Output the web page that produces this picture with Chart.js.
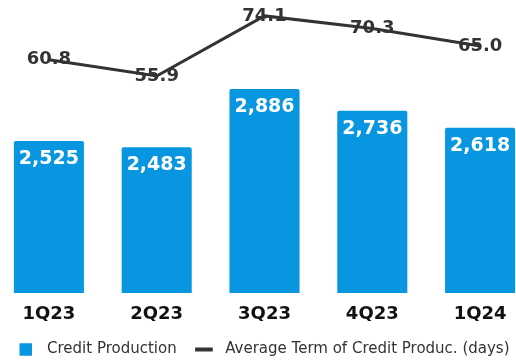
<!DOCTYPE html>
<html>
<head>
<meta charset="utf-8">
<script src="https://cdn.jsdelivr.net/npm/chart.js@4"></script>
<style>
  html, body { margin: 0; padding: 0; background: #fff; overflow: hidden; }
  #wrap { width: 539px; height: 361px; margin-left: -5px; }
</style>
</head>
<body>
<div id="wrap"><canvas id="chart"></canvas></div>
<script>
const categories = ['1Q23', '2Q23', '3Q23', '4Q23', '1Q24'];
const creditProduction = [2525, 2483, 2886, 2736, 2618];
const averageTerm = [60.8, 55.9, 74.1, 70.3, 65.0];

const blue = '#0896E1';
const dark = '#333333';
const font = '"DejaVu Sans", Verdana, sans-serif';

// white totals inside the bars, dark labels on the line
const valueLabels = {
  id: 'valueLabels',
  afterDatasetsDraw(chart) {
    const ctx = chart.ctx;
    ctx.save();
    ctx.textAlign = 'center';
    ctx.textBaseline = 'middle';

    ctx.font = 'bold 19px ' + font;
    ctx.fillStyle = '#ffffff';
    chart.getDatasetMeta(0).data.forEach((bar, i) => {
      ctx.fillText(creditProduction[i].toLocaleString('en-US'), bar.x, bar.y + 18);
    });

    ctx.font = 'bold 18px ' + font;
    ctx.fillStyle = dark;
    chart.getDatasetMeta(1).data.forEach((pt, i) => {
      ctx.fillText(averageTerm[i].toFixed(1), pt.x, pt.y);
    });
    ctx.restore();
  }
};

new Chart(document.getElementById('chart'), {
  data: {
    labels: categories,
    datasets: [
      {
        type: 'bar',
        label: 'Credit Production',
        data: creditProduction,
        backgroundColor: blue,
        borderRadius: 2,
        borderSkipped: 'bottom',
        categoryPercentage: 0.65,
        barPercentage: 1,
        yAxisID: 'y',
        order: 2
      },
      {
        type: 'line',
        label: 'Average Term of Credit Produc. (days)',
        data: averageTerm,
        borderColor: dark,
        backgroundColor: dark,
        borderWidth: 3,
        pointRadius: 0,
        tension: 0,
        yAxisID: 'y2',
        order: 1
      }
    ]
  },
  options: {
    responsive: true,
    maintainAspectRatio: false,
    animation: false,
    layout: { padding: { left: 0, right: 0, top: 5, bottom: 0 } },
    plugins: {
      tooltip: { enabled: false },
      legend: {
        position: 'bottom',
        maxHeight: 40,
        labels: {
          usePointStyle: true,
          color: dark,
          font: { family: font, size: 15 },
          boxWidth: 12.5,
          boxHeight: 12.5,
          padding: 21,
          generateLabels(chart) {
            return [
              { text: '\u2002Credit Production', fillStyle: blue, strokeStyle: blue, lineWidth: 0, pointStyle: 'rect', datasetIndex: 0, fontColor: dark },
              { text: '\u2002Average Term of Credit Produc. (days)', fillStyle: dark, strokeStyle: dark, lineWidth: 4, pointStyle: 'line', datasetIndex: 1, fontColor: dark }
            ];
          }
        }
      }
    },
    scales: {
      x: {
        grid: { display: false },
        border: { display: false },
        ticks: {
          color: '#111111',
          font: { family: font, size: 18, weight: 'bold' },
          padding: 3
        },
        afterFit(scale) { scale.height = 28; }
      },
      y: {
        display: false,
        min: 1470,
        max: 3470
      },
      y2: {
        display: false,
        min: -9.8,
        max: 77.4
      }
    }
  },
  plugins: [valueLabels]
});
</script>
</body>
</html>
